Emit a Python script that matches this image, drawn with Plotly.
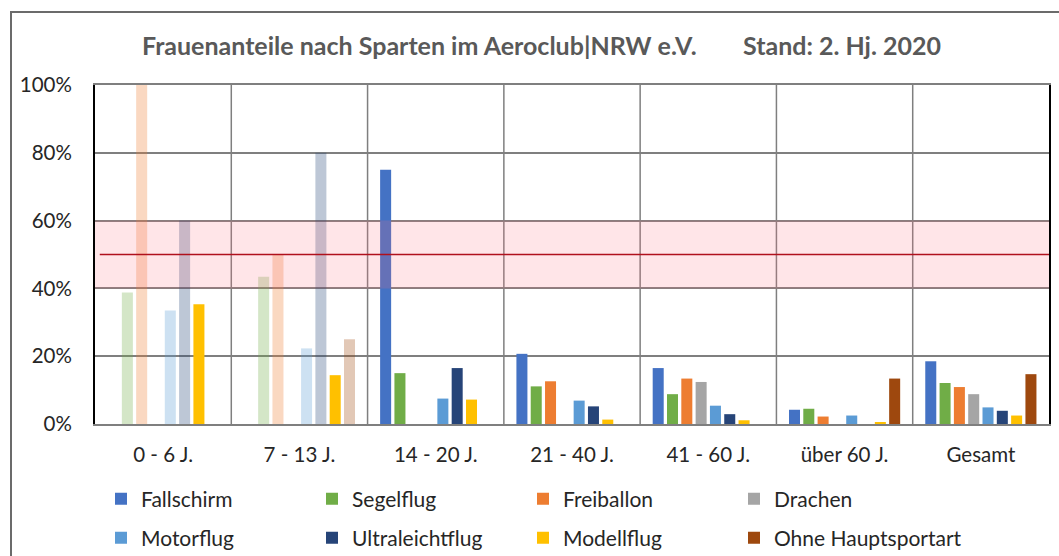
import plotly.graph_objects as go

categories = ["0 - 6 J.", "7 - 13 J.", "14 - 20 J.", "21 - 40 J.", "41 - 60 J.", "über 60 J.", "Gesamt"]
series_names = ["Fallschirm", "Segelflug", "Freiballon", "Drachen",
                "Motorflug", "Ultraleichtflug", "Modellflug", "Ohne Hauptsportart"]
fallschirm = [0, 0, 75.0, 20.7, 16.5, 4.2, 18.5]
segelflug = [38.8, 43.4, 15.0, 11.1, 8.8, 4.5, 12.1]
freiballon = [100.0, 50.0, 0, 12.6, 13.4, 2.2, 10.9]
drachen = [0, 0, 0, 0, 12.4, 0, 8.8]
motorflug = [33.5, 22.3, 7.5, 6.9, 5.4, 2.5, 4.9]
ultraleichtflug = [60.0, 80.0, 16.5, 5.2, 2.9, 0, 3.9]
modellflug = [35.3, 14.4, 7.2, 1.3, 1.1, 0.3, 2.5]
ohne = [0, 25.0, 0, 0, 0, 13.4, 14.7]
y_ticks = [0, 20, 40, 60, 80, 100]
band_low, band_mid, band_high = 40, 50, 60

values = [fallschirm, segelflug, freiballon, drachen, motorflug, ultraleichtflug, modellflug, ohne]
colors = ["#4472C4", "#70AD47", "#ED7D31", "#A5A5A5", "#5B9BD5", "#264478", "#FFC000", "#9E480E"]
faded_groups = {0, 1}

W, H = 1059, 556
L, R, T, B = 95, 1049, 85, 424


def px_x(p):
    return (p - L) / (R - L)


def px_y(p):
    return (B - p) / (B - T)


legend_of = ["legend", "legend", "legend", "legend", "legend2", "legend2", "legend2", "legend3"]

fig = go.Figure()
for i, (name, vals, col) in enumerate(zip(series_names, values, colors)):
    if name == "Modellflug":
        op = [1.0] * len(categories)
    else:
        op = [0.3 if j in faded_groups else 1.0 for j in range(len(categories))]
    fig.add_trace(go.Bar(
        x=categories, y=vals, name=name,
        marker=dict(color=col, opacity=op, line=dict(width=0)),
        legend=legend_of[i],
        hoverinfo="x+y+name",
    ))

shapes = []
# outer frame
shapes.append(dict(type="rect", xref="paper", yref="paper",
                   x0=px_x(11), x1=px_x(1075), y0=px_y(600), y1=px_y(12),
                   line=dict(color="#6B6B6B", width=2), fillcolor="rgba(0,0,0,0)", layer="below"))
# vertical separators between categories
for k in range(1, len(categories)):
    shapes.append(dict(type="line", xref="x", yref="y", x0=k - 0.5, x1=k - 0.5, y0=0, y1=100,
                       line=dict(color="#7F7F7F", width=1.5), layer="below"))
# pink band (semi-transparent, above bars)
shapes.append(dict(type="rect", xref="paper", yref="y", x0=0, x1=1, y0=band_low, y1=band_high,
                   fillcolor="rgba(255,110,125,0.18)", line=dict(width=0), layer="above"))
shapes.append(dict(type="line", xref="paper", yref="y", x0=0.005, x1=1, y0=band_mid, y1=band_mid,
                   line=dict(color="#B0101C", width=1.3), layer="above"))

font_family = "Lato, 'Open Sans', sans-serif"

annotations = [
    dict(text="<b>Frauenanteile nach Sparten im Aeroclub|NRW e.V.</b>", xref="paper", yref="paper",
         x=px_x(419), y=px_y(45), xanchor="center", yanchor="middle", showarrow=False,
         font=dict(family=font_family, size=25, color="#595959")),
    dict(text="<b>Stand: 2. Hj. 2020</b>", xref="paper", yref="paper",
         x=px_x(842), y=px_y(45), xanchor="center", yanchor="middle", showarrow=False,
         font=dict(family=font_family, size=25, color="#595959")),
]

legend_common = dict(orientation="h", xref="paper", yref="paper", xanchor="left", yanchor="middle",
                     entrywidth=166, entrywidthmode="pixels", bgcolor="rgba(0,0,0,0)",
                     font=dict(family=font_family, size=21, color="#262626"),
                     itemclick=False, itemdoubleclick=False, traceorder="normal")
legend_last = dict(legend_common)
legend_last["entrywidth"] = 0

fig.update_layout(
    width=W, height=H,
    margin=dict(l=L, r=W - R, t=T, b=H - B, pad=0, autoexpand=False),
    paper_bgcolor="white", plot_bgcolor="white",
    barmode="group", bargap=0.16, bargroupgap=0.23,
    showlegend=True,
    legend=dict(x=px_x(101), y=px_y(499), **legend_common),
    legend2=dict(x=px_x(101), y=px_y(538), **legend_common),
    legend3=dict(x=px_x(101 + 3 * 211), y=px_y(538), **legend_last),
    shapes=shapes, annotations=annotations,
    font=dict(family=font_family, size=20, color="#262626"),
    xaxis=dict(type="category", showgrid=False, showline=True, mirror=True,
               linecolor="#7F7F7F", linewidth=1.5, ticks="", ticklabelstandoff=12,
               tickfont=dict(family=font_family, size=20.5, color="#262626"),
               fixedrange=True),
    yaxis=dict(range=[0, 100], tickvals=y_ticks, ticktext=[f"{v}%" for v in y_ticks],
               showgrid=True, gridcolor="#7F7F7F", gridwidth=1.5, zeroline=False,
               showline=True, mirror=True, linecolor="#000000", linewidth=2,
               ticks="", ticklabelstandoff=17,
               tickfont=dict(family=font_family, size=20.5, color="#262626"),
               fixedrange=True),
)

fig.write_html("out.html", config={"displayModeBar": False},
               post_script="document.body.style.margin='0px';document.body.style.overflow='hidden';")
